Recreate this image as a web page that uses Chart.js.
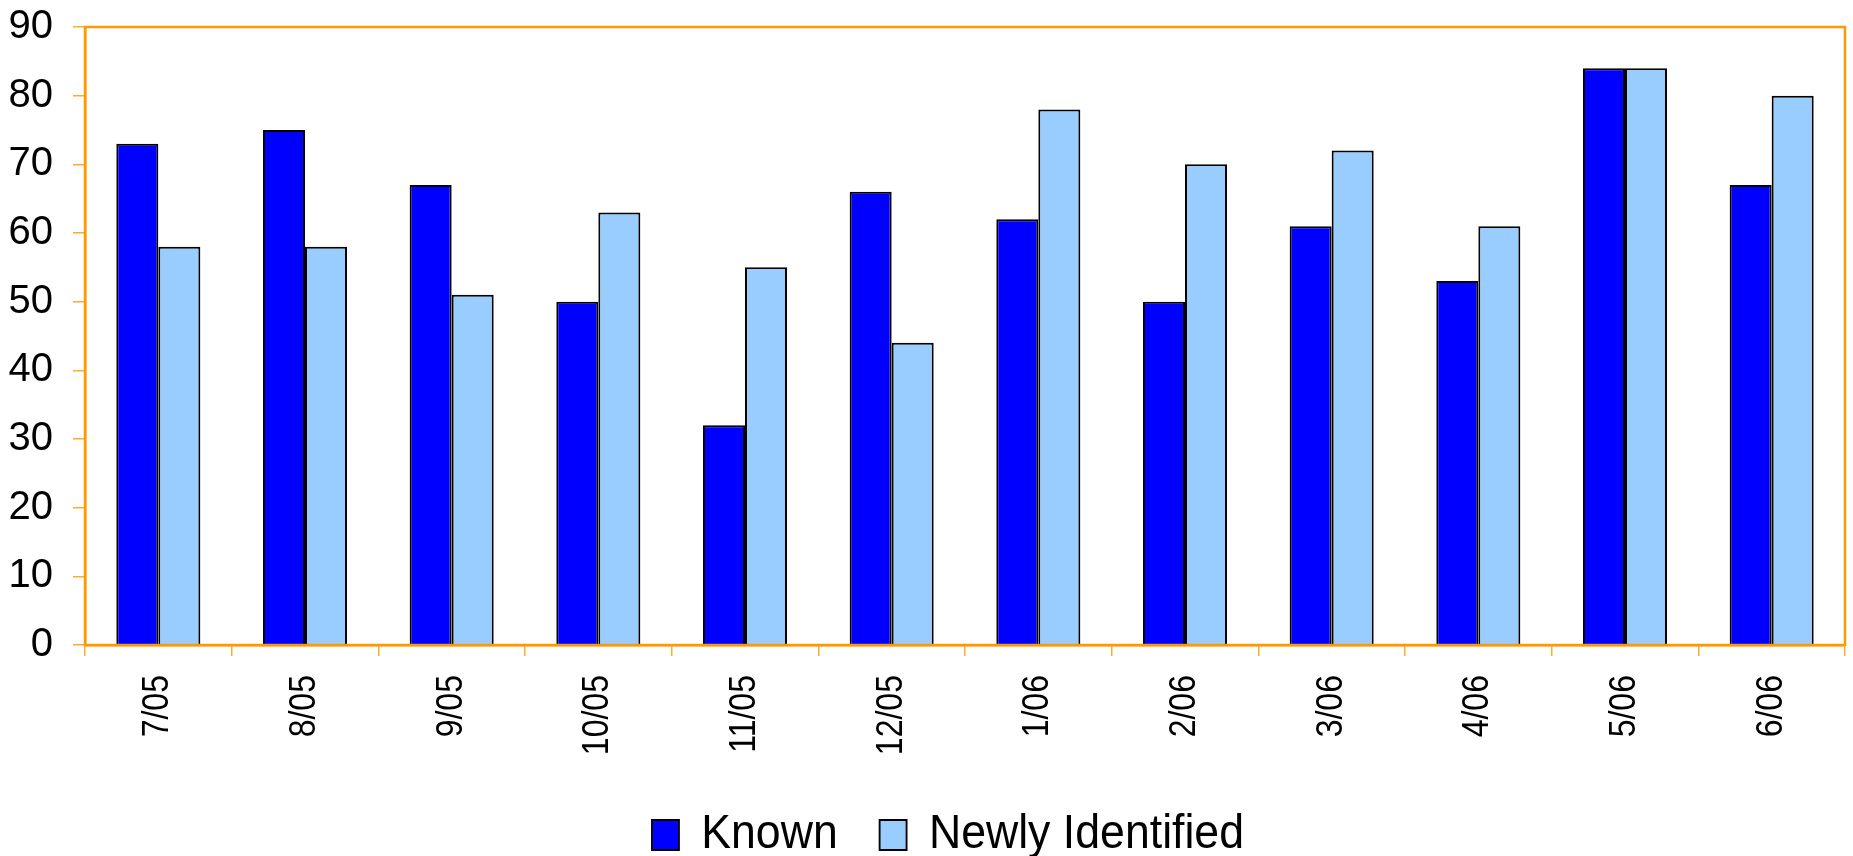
<!DOCTYPE html>
<html>
<head>
<meta charset="utf-8">
<title>Known vs Newly Identified</title>
<script src="https://cdn.jsdelivr.net/npm/chart.js@4.4.1/dist/chart.umd.min.js"></script>
<style>
    html, body { margin: 0; padding: 0; background: #ffffff; }
    #wrap { width: 1853px; height: 856px; position: relative; }
</style>
</head>
<body>
<div id="wrap"><canvas id="chart"></canvas></div>
<script>
// Monthly counts
const months = ['7/05', '8/05', '9/05', '10/05', '11/05', '12/05', '1/06', '2/06', '3/06', '4/06', '5/06', '6/06'];
const knownCounts = [73, 75, 67, 50, 32, 66, 62, 50, 61, 53, 84, 67];
const newlyIdentifiedCounts = [58, 58, 51, 63, 55, 44, 78, 70, 72, 61, 84, 80];
const yTickValues = [0, 10, 20, 30, 40, 50, 60, 70, 80, 90];

const ORANGE = '#FF9900';
const TICK_ORANGE = '#FFAA33';
const FONT = "'Liberation Sans', Arial, Helvetica, sans-serif";

// Month labels and legend text are a little condensed
const MONTH_RATIO = 0.89;
const LEGEND_RATIO = 0.93;
const X_TICK_LENGTH = 11;
const X_LABEL_PAD = 19;
const LEGEND_CENTER_X = 948;

// Orange frame round the plot area
const plotFrame = {
    id: 'plotFrame',
    afterDatasetsDraw(chart) {
        const { ctx, chartArea: a } = chart;
        ctx.save();
        ctx.strokeStyle = ORANGE;
        ctx.lineWidth = 2.5;
        ctx.strokeRect(a.left, a.top, a.right - a.left, a.bottom - a.top);
        ctx.restore();
    }
};

// Condensed month labels along the x axis (rotated, so squeeze vertically)
const narrowMonthLabels = {
    id: 'narrowMonthLabels',
    beforeDraw(chart) {
        const xs = chart.scales.x;
        if (xs._narrow) return;
        const drawLabels = xs.drawLabels;
        xs.drawLabels = function (area) {
            const ctx = this.ctx;
            const y0 = this.top + X_TICK_LENGTH + X_LABEL_PAD;
            ctx.save();
            ctx.translate(0, y0);
            ctx.scale(1, MONTH_RATIO);
            ctx.translate(0, -y0);
            drawLabels.call(this, area);
            ctx.restore();
        };
        xs._narrow = true;
    }
};

// Legend: fixed height, condensed horizontally and centred on LEGEND_CENTER_X
const legendPlacement = {
    id: 'legendPlacement',
    beforeInit(chart) {
        const legend = chart.legend;
        const fit = legend.fit;
        legend.fit = function () {
            fit.call(this);
            this.height = 90;
        };
        const draw = legend.draw;
        legend.draw = function (area) {
            const boxes = this.legendHitBoxes || [];
            let cx = (this.left + this.right) / 2;
            if (boxes.length) {
                const l = Math.min(...boxes.map(b => b.left));
                const r = Math.max(...boxes.map(b => b.left + b.width));
                cx = (l + r) / 2;
            }
            const ctx = this.ctx;
            ctx.save();
            ctx.translate(LEGEND_CENTER_X, 0);
            ctx.scale(LEGEND_RATIO, 1);
            ctx.translate(-cx, 0);
            draw.call(this, area);
            ctx.restore();
        };
    }
};

new Chart(document.getElementById('chart'), {
    type: 'bar',
    data: {
        labels: months,
        datasets: [
            {
                label: 'Known',
                data: knownCounts,
                backgroundColor: '#0000FF',
                borderColor: '#000000',
                borderWidth: 2
            },
            {
                label: 'Newly Identified',
                data: newlyIdentifiedCounts,
                backgroundColor: '#99CCFF',
                borderColor: '#000000',
                borderWidth: 2
            }
        ]
    },
    options: {
        responsive: true,
        maintainAspectRatio: false,
        animation: false,
        datasets: {
            bar: { categoryPercentage: 0.573, barPercentage: 1.0 }
        },
        layout: { padding: { top: 27, right: 8, left: 0, bottom: 0 } },
        plugins: {
            tooltip: { enabled: false },
            legend: {
                position: 'bottom',
                labels: {
                    color: '#000000',
                    font: { family: FONT, size: 48 },
                    boxWidth: 29,
                    boxHeight: 30,
                    padding: 45
                }
            }
        },
        scales: {
            x: {
                grid: {
                    drawOnChartArea: false,
                    drawTicks: true,
                    tickLength: X_TICK_LENGTH,
                    color: TICK_ORANGE,
                    lineWidth: 1.5
                },
                border: { color: ORANGE, width: 2.5 },
                ticks: {
                    color: '#000000',
                    font: { family: FONT, size: 36 },
                    minRotation: 90,
                    maxRotation: 90,
                    padding: X_LABEL_PAD
                },
                afterFit(scale) {
                    scale.height = 121;
                    scale.paddingLeft = 0;
                    scale.paddingRight = 0;
                }
            },
            y: {
                min: 0,
                max: 90,
                afterBuildTicks(scale) {
                    scale.ticks = yTickValues.map(v => ({ value: v }));
                },
                grid: {
                    drawOnChartArea: false,
                    drawTicks: true,
                    tickLength: 12,
                    color: TICK_ORANGE,
                    lineWidth: 1.5
                },
                border: { color: ORANGE, width: 2.5 },
                ticks: {
                    color: '#000000',
                    font: { family: FONT, size: 40 },
                    padding: 20
                },
                afterFit(scale) {
                    scale.width = 85;
                    scale.paddingTop = 0;
                    scale.paddingBottom = 0;
                }
            }
        }
    },
    plugins: [plotFrame, narrowMonthLabels, legendPlacement]
});
</script>
</body>
</html>
